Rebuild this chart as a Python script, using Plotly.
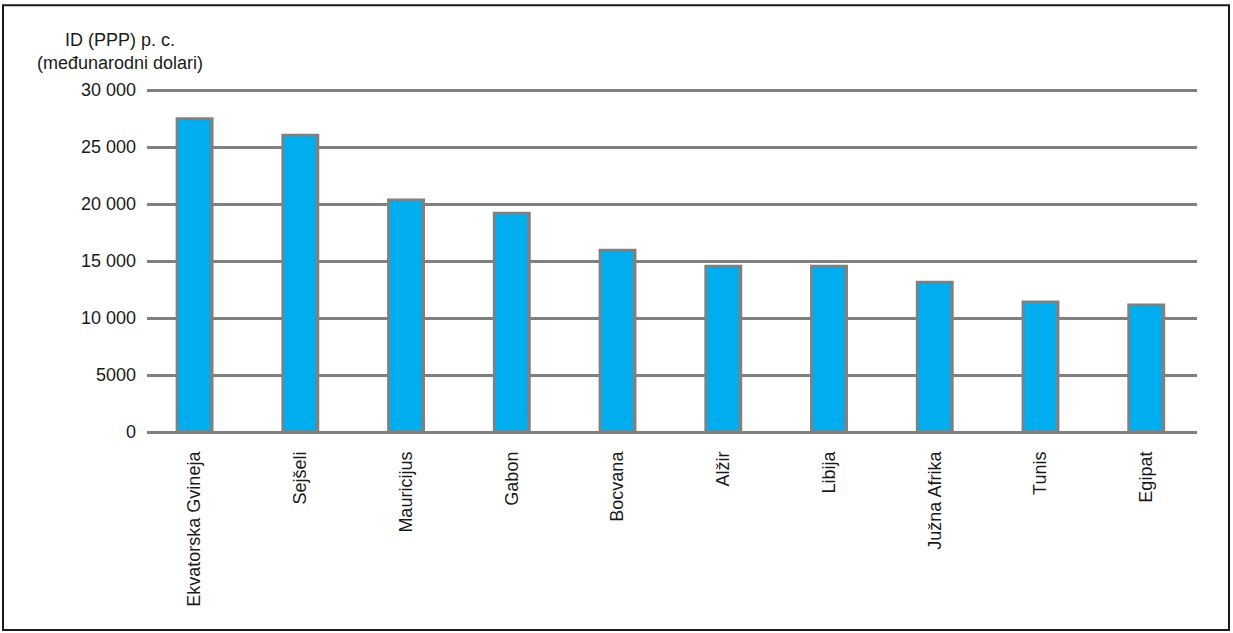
import plotly.graph_objects as go

# ---- data ----
countries = ["Ekvatorska Gvineja", "Sejšeli", "Mauricijus", "Gabon", "Bocvana",
             "Alžir", "Libija", "Južna Afrika", "Tunis", "Egipat"]
gdp_ppp = [27500, 26050, 20350, 19200, 15950, 14550, 14550, 13150, 11400, 11150]

y_ticks = [0, 5000, 10000, 15000, 20000, 25000, 30000]
y_tick_text = ["0", "5000", "10 000", "15 000", "20 000", "25 000", "30 000"]

FONT = "Liberation Sans, Arial, sans-serif"
GREY = "#808080"
BLUE = "#00AEEF"

W, H = 1233, 633
Y_TOP = 30100
# plot area in reference px: x 147..1197, y(0)=432, y(30000)=90
M_L = 147
M_R = W - 1197
M_B = H - 432
PH = (432 - 90) * Y_TOP / 30000
M_T = H - M_B - PH
PW = W - M_L - M_R


def px_x(x):
    return (x - M_L) / PW


def px_y(y):
    return (H - y - M_B) / PH


fig = go.Figure()
fig.add_trace(go.Bar(
    x=countries, y=gdp_ppp, width=0.33,
    marker=dict(color=BLUE, line=dict(color=GREY, width=3)),
    hovertemplate="%{x}: %{y}<extra></extra>",
))

fig.update_layout(
    width=W, height=H, autosize=False,
    margin=dict(l=M_L, r=M_R, t=M_T, b=M_B, pad=0),
    paper_bgcolor="white", plot_bgcolor="white",
    font=dict(family=FONT, size=18, color="#1a1a1a"),
    showlegend=False,
    xaxis=dict(
        range=[-0.45, 9.48], tickangle=-90, showgrid=False, zeroline=False,
        showline=False, ticks="", ticklabelstandoff=15,
    ),
    yaxis=dict(
        range=[0, Y_TOP], tickvals=y_ticks, ticktext=y_tick_text,
        showgrid=True, gridcolor=GREY, gridwidth=3,
        zeroline=True, zerolinecolor=GREY, zerolinewidth=3,
        showline=False, ticks="", ticklabelstandoff=10,
    ),
    annotations=[dict(
        text="ID (PPP) p. c.<br>(međunarodni dolari)",
        xref="paper", yref="paper", x=px_x(120), y=px_y(51),
        xanchor="center", yanchor="middle", align="center",
        showarrow=False, font=dict(size=18),
    )],
    shapes=[dict(
        type="rect", xref="paper", yref="paper",
        x0=px_x(3), x1=px_x(1229), y0=px_y(630), y1=px_y(5),
        line=dict(color="#1a1a1a", width=2), fillcolor="rgba(0,0,0,0)",
        layer="above",
    )],
)

# drop the default body margin so the fixed-size figure fills the window
fig.write_html(
    "out.html",
    config={"displayModeBar": False},
    post_script="document.body.style.margin='0';document.body.style.overflow='hidden';",
)
